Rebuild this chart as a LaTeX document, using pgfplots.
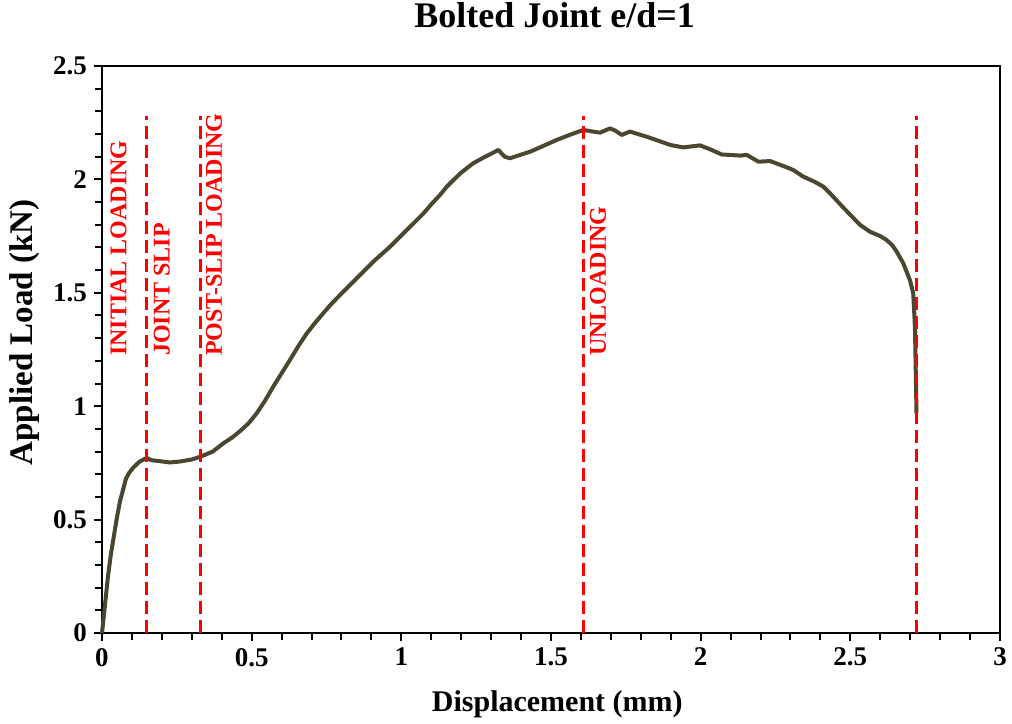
\documentclass[border=0pt]{standalone}
\usepackage{fontspec}
\setmainfont{Liberation Serif}
\usepackage{pgfplots}
\pgfplotsset{compat=1.18}
\definecolor{curve}{RGB}{74,70,48}
\begin{document}
\begin{tikzpicture}
\begin{axis}[
  at={(0,0)}, anchor=south west,
  scale only axis,
  width=449pt, height=283.5pt,
  xmin=0, xmax=3, ymin=0, ymax=2.5,
  xtick={0,0.5,1,1.5,2,2.5,3},
  ytick={0,0.5,1,1.5,2,2.5},
  minor x tick num=4, minor y tick num=4,
  xtick pos=bottom, ytick pos=left,
  tick align=outside,
  major tick length=4pt, minor tick length=3.5pt,
  every tick/.style={black, line width=1pt},
  axis line style={line width=1.2pt},
  /pgf/number format/assume math mode=true,
  ticklabel style={font=\fontsize{13.5}{15}\selectfont\bfseries},
  xlabel={Displacement (mm)},
  ylabel={Applied Load (kN)},
  xlabel style={font=\fontsize{15}{18}\selectfont\bfseries, at={(axis description cs:0.507,-0.125)}, anchor=center},
  ylabel style={font=\fontsize{16.5}{19}\selectfont\bfseries, at={(axis description cs:-0.0857,0.53)}, anchor=center},
  title={Bolted Joint e/d=1},
  title style={font=\fontsize{18}{21}\selectfont\bfseries, at={(axis description cs:0.504,1.069)}, anchor=center},
  clip=false,
]
\addplot[curve, line width=2pt, line join=round] coordinates {
(0,0) (0.005,0.06) (0.012,0.15) (0.02,0.25) (0.03,0.35) (0.04,0.43) (0.05,0.51)
(0.06,0.58) (0.07,0.63) (0.08,0.68) (0.09,0.705) (0.105,0.73) (0.125,0.755)
(0.149,0.772) (0.165,0.762) (0.19,0.758) (0.227,0.752) (0.26,0.756) (0.3,0.765)
(0.33,0.778) (0.37,0.80) (0.405,0.836) (0.435,0.862) (0.461,0.89) (0.49,0.925)
(0.517,0.969) (0.545,1.025) (0.572,1.086) (0.6,1.145) (0.628,1.204) (0.656,1.265)
(0.684,1.321) (0.711,1.366) (0.739,1.41) (0.767,1.452) (0.795,1.49) (0.823,1.527)
(0.851,1.564) (0.878,1.60) (0.906,1.637) (0.934,1.67) (0.962,1.703) (0.99,1.74)
(1.018,1.777) (1.046,1.813) (1.074,1.85) (1.1,1.89) (1.129,1.931) (1.15,1.965)
(1.174,1.997) (1.2,2.03) (1.24,2.071) (1.28,2.10) (1.31,2.12) (1.324,2.13)
(1.345,2.10) (1.363,2.093) (1.39,2.105) (1.43,2.122) (1.47,2.145) (1.519,2.174)
(1.56,2.195) (1.608,2.218) (1.635,2.212) (1.664,2.206) (1.697,2.225) (1.715,2.215)
(1.736,2.196) (1.764,2.211) (1.79,2.2) (1.82,2.188) (1.864,2.168) (1.898,2.152)
(1.942,2.141) (1.998,2.15) (2.031,2.133) (2.07,2.11) (2.132,2.105) (2.154,2.108)
(2.193,2.078) (2.232,2.081) (2.282,2.056) (2.31,2.041) (2.343,2.012) (2.38,1.99)
(2.41,1.968) (2.432,1.939) (2.477,1.875) (2.532,1.80) (2.566,1.769) (2.6,1.75)
(2.621,1.733) (2.64,1.71) (2.655,1.681) (2.677,1.63) (2.699,1.556) (2.71,1.498)
(2.714,1.40) (2.716,1.336) (2.718,1.2) (2.721,0.969)
};
\addplot[red, line width=1.5pt, dash pattern=on 6.5pt off 3pt] coordinates {(0.15,0) (0.15,2.28)};
\addplot[red, line width=1.5pt, dash pattern=on 6.5pt off 3pt] coordinates {(0.33,0) (0.33,2.28)};
\addplot[red, line width=1.5pt, dash pattern=on 6.5pt off 3pt] coordinates {(1.61,0) (1.61,2.28)};
\addplot[red, line width=1.5pt, dash pattern=on 6.5pt off 3pt] coordinates {(2.72,0) (2.72,2.28)};
\node[red, rotate=90, anchor=west, inner sep=0pt, font=\fontsize{12}{14}\selectfont\bfseries] at (axis cs:0.055,1.22) {INITIAL LOADING};
\node[red, rotate=90, anchor=west, inner sep=0pt, font=\fontsize{12}{14}\selectfont\bfseries] at (axis cs:0.2,1.22) {JOINT SLIP};
\node[red, rotate=90, anchor=west, inner sep=0pt, font=\fontsize{12}{14}\selectfont\bfseries] at (axis cs:0.374,1.22) {POST-SLIP LOADING};
\node[red, rotate=90, anchor=west, inner sep=0pt, font=\fontsize{12}{14}\selectfont\bfseries] at (axis cs:1.657,1.22) {UNLOADING};
\end{axis}
\pgfresetboundingbox
\path[use as bounding box] (-51pt,-45pt) rectangle (455pt,316.5pt);
\end{tikzpicture}
\end{document}
